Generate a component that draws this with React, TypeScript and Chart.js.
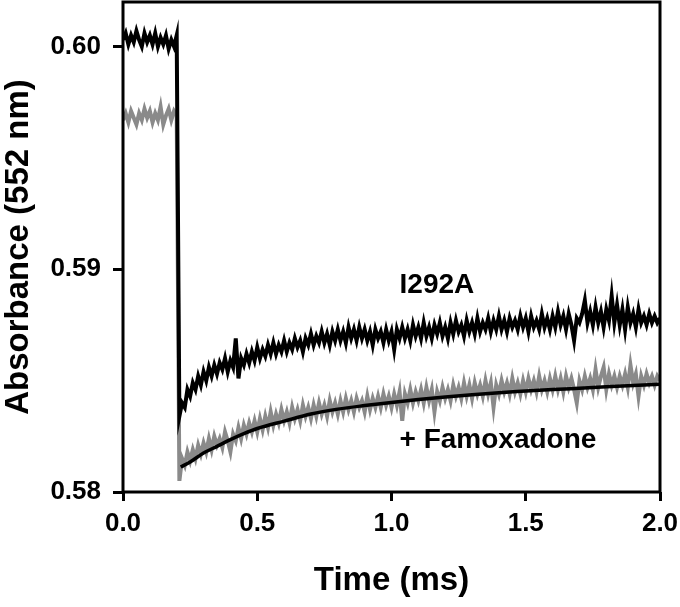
import React, { useEffect, useRef } from 'react';
import { Chart, registerables } from 'chart.js';

Chart.register(...registerables);

// Sampling of the recorded traces (ms)
const SAMPLE_STEP_MS = 0.01;

// I292A trace (black), samples at 0.00, 0.01, ... 2.00 ms
const blackTrace = [
  0.6003, 0.6006, 0.6001, 0.6005, 0.6002, 0.6007, 0.6003, 0.6000, 0.6006, 0.6002,
  0.6005, 0.6001, 0.6006, 0.6000, 0.6004, 0.6001, 0.6005, 0.5999, 0.6003, 0.6000,
  0.6005,
  0.5834, 0.5840, 0.5838, 0.5846, 0.5843, 0.5849, 0.5846, 0.5852, 0.5848, 0.5854,
  0.5850, 0.5856, 0.5852, 0.5857, 0.5853, 0.5858, 0.5855, 0.5860, 0.5854, 0.5859,
  0.5856, 0.5869, 0.5851, 0.5860, 0.5857, 0.5862, 0.5858, 0.5863, 0.5859, 0.5865,
  0.5860, 0.5864, 0.5861, 0.5866, 0.5862, 0.5867, 0.5862, 0.5866, 0.5863, 0.5868,
  0.5863, 0.5867, 0.5864, 0.5869, 0.5865, 0.5868, 0.5863, 0.5869, 0.5866, 0.5871,
  0.5866, 0.5870, 0.5867, 0.5872, 0.5867, 0.5871, 0.5866, 0.5872, 0.5868, 0.5873,
  0.5868, 0.5872, 0.5867, 0.5874, 0.5869, 0.5873, 0.5868, 0.5874, 0.5869, 0.5873,
  0.5868, 0.5872, 0.5866, 0.5873, 0.5869, 0.5872, 0.5867, 0.5873, 0.5868, 0.5872,
  0.5864, 0.5873, 0.5869, 0.5874, 0.5869, 0.5873, 0.5868, 0.5875, 0.5870, 0.5874,
  0.5869, 0.5876, 0.5870, 0.5874, 0.5869, 0.5875, 0.5871, 0.5876, 0.5870, 0.5874,
  0.5869, 0.5876, 0.5871, 0.5877, 0.5872, 0.5875, 0.5870, 0.5877, 0.5872, 0.5876,
  0.5871, 0.5878, 0.5872, 0.5876, 0.5873, 0.5878, 0.5872, 0.5877, 0.5873, 0.5879,
  0.5873, 0.5877, 0.5872, 0.5878, 0.5874, 0.5877, 0.5873, 0.5879, 0.5874, 0.5878,
  0.5872, 0.5879, 0.5874, 0.5877, 0.5873, 0.5880, 0.5874, 0.5878, 0.5873, 0.5879,
  0.5874, 0.5881, 0.5875, 0.5879, 0.5873, 0.5880, 0.5875, 0.5868, 0.5878, 0.5876,
  0.5880, 0.5886, 0.5876, 0.5881, 0.5875, 0.5883, 0.5876, 0.5881, 0.5874, 0.5882,
  0.5877, 0.5888, 0.5876, 0.5884, 0.5875, 0.5882, 0.5873, 0.5883, 0.5876, 0.5880,
  0.5874, 0.5882, 0.5876, 0.5879, 0.5875, 0.5880, 0.5876, 0.5879, 0.5876, 0.5878,
];

// + Famoxadone trace (grey), same sampling
const grayTrace = [
  0.5967, 0.5970, 0.5966, 0.5971, 0.5968, 0.5965, 0.5970, 0.5967, 0.5972, 0.5968,
  0.5971, 0.5966, 0.5970, 0.5967, 0.5973, 0.5965, 0.5969, 0.5972, 0.5967, 0.5971,
  0.5969,
  0.5805, 0.5815, 0.5812, 0.5818, 0.5814, 0.5819, 0.5815, 0.5821, 0.5817, 0.5822,
  0.5818, 0.5824, 0.5819, 0.5825, 0.5821, 0.5824, 0.5820, 0.5827, 0.5823, 0.5818,
  0.5826, 0.5823, 0.5829, 0.5824, 0.5830, 0.5826, 0.5831, 0.5827, 0.5832, 0.5827,
  0.5833, 0.5828, 0.5834, 0.5829, 0.5836, 0.5830, 0.5835, 0.5831, 0.5837, 0.5832,
  0.5836, 0.5831, 0.5838, 0.5833, 0.5837, 0.5832, 0.5839, 0.5834, 0.5838, 0.5833,
  0.5839, 0.5834, 0.5840, 0.5835, 0.5839, 0.5834, 0.5841, 0.5836, 0.5840, 0.5835,
  0.5841, 0.5836, 0.5842, 0.5837, 0.5841, 0.5836, 0.5842, 0.5838, 0.5841, 0.5836,
  0.5843, 0.5837, 0.5842, 0.5838, 0.5843, 0.5838, 0.5844, 0.5839, 0.5843, 0.5838,
  0.5844, 0.5839, 0.5845, 0.5832, 0.5844, 0.5840, 0.5846, 0.5840, 0.5845, 0.5841,
  0.5846, 0.5840, 0.5847, 0.5841, 0.5846, 0.5836, 0.5845, 0.5841, 0.5847, 0.5842,
  0.5846, 0.5841, 0.5848, 0.5843, 0.5847, 0.5842, 0.5849, 0.5843, 0.5848, 0.5842,
  0.5849, 0.5844, 0.5848, 0.5843, 0.5850, 0.5844, 0.5849, 0.5838, 0.5848, 0.5844,
  0.5850, 0.5845, 0.5849, 0.5844, 0.5851, 0.5845, 0.5849, 0.5844, 0.5850, 0.5845,
  0.5851, 0.5846, 0.5850, 0.5845, 0.5852, 0.5846, 0.5850, 0.5845, 0.5851, 0.5846,
  0.5852, 0.5846, 0.5851, 0.5845, 0.5852, 0.5847, 0.5851, 0.5846, 0.5840, 0.5850,
  0.5846, 0.5852, 0.5847, 0.5851, 0.5846, 0.5855, 0.5847, 0.5852, 0.5856, 0.5846,
  0.5853, 0.5848, 0.5852, 0.5847, 0.5852, 0.5848, 0.5853, 0.5847, 0.5857, 0.5849,
  0.5853, 0.5843, 0.5852, 0.5848, 0.5853, 0.5849, 0.5852, 0.5848, 0.5852, 0.5850,
];

// Fitted curve (black, smooth) over the famoxadone trace
const fitTime = [
  0.215, 0.25, 0.30, 0.35, 0.40, 0.45, 0.50, 0.60, 0.70, 0.80, 0.90,
  1.00, 1.10, 1.20, 1.30, 1.40, 1.50, 1.60, 1.70, 1.80, 1.90, 2.00,
];
const fitValues = [
  0.58112, 0.58135, 0.58175, 0.58205, 0.58235, 0.58262, 0.58285, 0.58318, 0.58350, 0.58372, 0.58388,
  0.58402, 0.58415, 0.58427, 0.58437, 0.58446, 0.58453, 0.58460, 0.58466, 0.58472, 0.58478, 0.58484,
];

const xTicks = [0, 0.5, 1, 1.5, 2];
const xTickLabels = ['0.0', '0.5', '1.0', '1.5', '2.0'];
const yTicks = [0.58, 0.59, 0.6];
const yTickLabels = ['0.58', '0.59', '0.60'];

const xTitle = 'Time (ms)';
const yTitle = 'Absorbance (552 nm)';

const annotationTexts = ['I292A', '+ Famoxadone'];
const annotationX = [1.03, 1.03];
const annotationY = [0.58894, 0.58198];

const FONT = '"Liberation Sans", Arial, Helvetica, sans-serif';

const framePlugin = {
  id: 'frameAndText',
  afterDatasetsDraw(chart: any) {
    const { ctx, chartArea } = chart;
    const { left, right, top, bottom } = chartArea;
    ctx.save();
    ctx.strokeStyle = '#000';
    ctx.lineWidth = 3;
    ctx.strokeRect(left, top, right - left, bottom - top);
    ctx.restore();
  },
  afterDraw(chart: any) {
    const { ctx, chartArea, scales } = chart;
    const { left, right, top, bottom } = chartArea;
    ctx.save();
    ctx.fillStyle = '#000';
    ctx.textBaseline = 'alphabetic';
    ctx.font = `bold 33px ${FONT}`;
    ctx.textAlign = 'center';
    ctx.fillText(xTitle, (left + right) / 2, 590);
    ctx.save();
    ctx.translate(28, (top + bottom) / 2);
    ctx.rotate(-Math.PI / 2);
    ctx.fillText(yTitle, 0, 0);
    ctx.restore();
    ctx.font = `bold 28px ${FONT}`;
    ctx.textAlign = 'left';
    annotationTexts.forEach((t, i) => {
      ctx.fillText(t, scales.x.getPixelForValue(annotationX[i]), scales.y.getPixelForValue(annotationY[i]));
    });
    ctx.restore();
  },
};

const zeroPadding = (s: any) => {
  s.paddingTop = 0;
  s.paddingBottom = 0;
  s.paddingLeft = 0;
  s.paddingRight = 0;
};

export default function App() {
  const canvasRef = useRef<HTMLCanvasElement | null>(null);

  useEffect(() => {
    document.body.style.margin = '0';
    const canvas = canvasRef.current;
    if (!canvas) return;
    const sampleTimes = blackTrace.map((_, i) => Math.round(i * SAMPLE_STEP_MS * 1000) / 1000);
    const blackData = sampleTimes.map((t, i) => ({ x: t, y: blackTrace[i] }));
    const grayData = sampleTimes.map((t, i) => ({ x: t, y: grayTrace[i] }));
    const fitData = fitTime.map((t, i) => ({ x: t, y: fitValues[i] }));

    const tickFont = { family: FONT, size: 26, weight: 'bold' as const };

    const chart = new Chart(canvas, {
      type: 'line',
      data: {
        datasets: [
          {
            label: 'Fit',
            data: fitData,
            borderColor: '#000',
            borderWidth: 3.5,
            pointRadius: 0,
            fill: false,
            cubicInterpolationMode: 'monotone',
          },
          {
            label: 'I292A',
            data: blackData,
            borderColor: '#000',
            borderWidth: 4,
            pointRadius: 0,
            fill: false,
            tension: 0,
          },
          {
            label: '+ Famoxadone',
            data: grayData,
            borderColor: '#8a8a8a',
            borderWidth: 4,
            pointRadius: 0,
            fill: false,
            tension: 0,
          },
        ],
      },
      options: {
        responsive: false,
        devicePixelRatio: 1,
        animation: false,
        layout: { padding: { top: 2, right: 20, bottom: 0, left: 0 } },
        plugins: {
          legend: { display: false },
          tooltip: { enabled: false },
          title: { display: false },
        },
        scales: {
          x: {
            type: 'linear',
            min: 0,
            max: 2,
            afterBuildTicks: (s: any) => {
              s.ticks = xTicks.map((v) => ({ value: v }));
            },
            afterFit: (s: any) => {
              s.height = 115;
              zeroPadding(s);
            },
            grid: {
              display: true,
              drawOnChartArea: false,
              drawTicks: true,
              tickLength: 9,
              tickWidth: 3,
              tickColor: '#000',
              color: '#000',
            },
            border: { display: false },
            ticks: {
              padding: 7,
              color: '#000',
              font: tickFont,
              maxRotation: 0,
              autoSkip: false,
              callback: (v: any) => xTickLabels[xTicks.indexOf(Number(v))],
            },
          },
          y: {
            type: 'linear',
            min: 0.58,
            max: 0.602,
            afterBuildTicks: (s: any) => {
              s.ticks = yTicks.map((v) => ({ value: v }));
            },
            afterFit: (s: any) => {
              s.width = 123;
              zeroPadding(s);
            },
            grid: {
              display: true,
              drawOnChartArea: false,
              drawTicks: true,
              tickLength: 10,
              tickWidth: 3,
              tickColor: '#000',
              color: '#000',
            },
            border: { display: false },
            ticks: {
              padding: 12,
              color: '#000',
              font: tickFont,
              autoSkip: false,
              callback: (v: any) => yTickLabels[yTicks.indexOf(Number(v))],
            },
          },
        },
      },
      plugins: [framePlugin],
    });
    return () => chart.destroy();
  }, []);

  return (
    <div style={{ width: 680, height: 607 }}>
      <canvas ref={canvasRef} width={680} height={607} style={{ display: 'block' }} />
    </div>
  );
}
